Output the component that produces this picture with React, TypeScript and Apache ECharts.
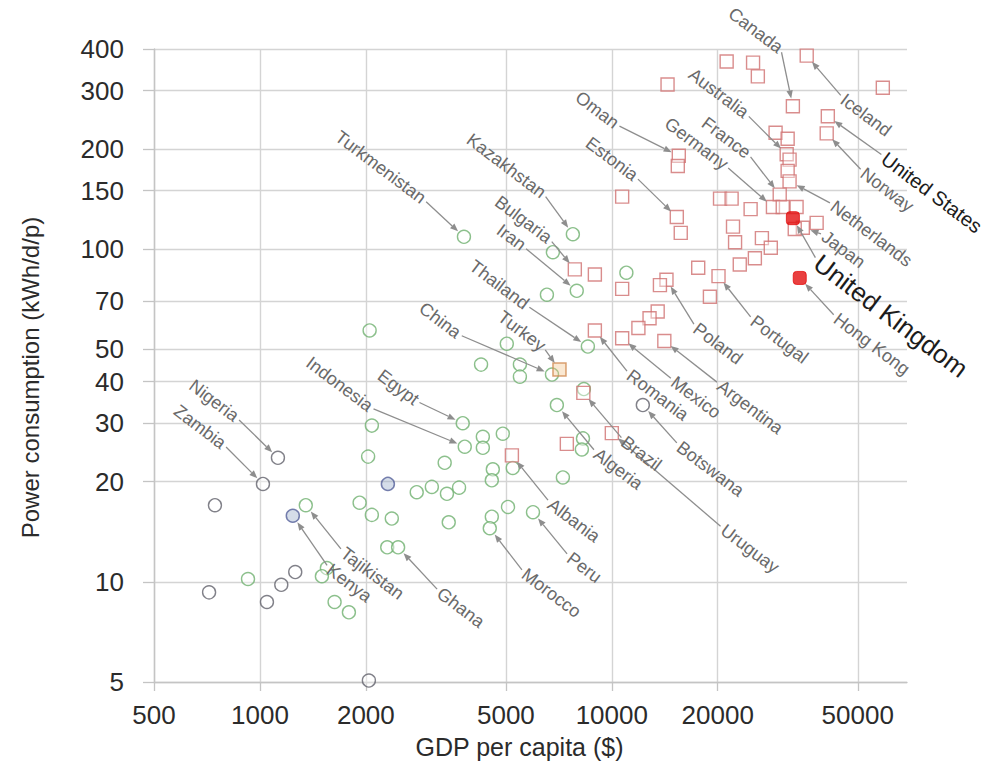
import React, { useEffect, useRef } from "react";
import * as echarts from "echarts";

// ---- axes ----
const X_TICKS = [500, 1000, 2000, 5000, 10000, 20000, 50000];
const Y_TICKS = [5, 10, 20, 30, 40, 50, 70, 100, 150, 200, 300, 400];
const X_NAME = "GDP per capita ($)";
const Y_NAME = "Power consumption (kWh/d/p)";

type Pt = [number, number, string];

// [GDP per capita, power consumption, label]
const highDev: Pt[] = [
  [21200, 367, ""], [25200, 364, ""], [26000, 331, ""], [14400, 313, ""],
  [35800, 382, "Iceland"], [58900, 306, ""], [32700, 269, "Canada"],
  [41100, 251, "United States"], [40800, 223, "Norway"], [29200, 224, ""],
  [31600, 215, ""], [31400, 193, "Australia"], [32000, 186, ""], [31600, 172, ""],
  [32000, 160, "Netherlands"], [15500, 191, "Oman"], [15400, 178, ""],
  [10700, 144, ""], [15300, 125, "Estonia"], [15700, 112, ""], [20300, 142, ""],
  [21900, 142, ""], [30000, 146, "France"], [24800, 132, ""], [28700, 134, "Germany"],
  [30600, 134, ""], [33500, 134, ""], [38200, 120, ""], [34900, 116, "Japan"],
  [33100, 115, ""], [22100, 117, ""], [26700, 108, ""], [22400, 105, ""],
  [28300, 101, ""], [25500, 94, ""], [23100, 90, ""], [17600, 88, ""],
  [20100, 83, "Portugal"], [19000, 72, ""], [14300, 81, "Poland"], [13700, 78, ""],
  [7850, 87, "Bulgaria"], [8950, 84, ""], [10700, 76, ""], [13500, 65, ""],
  [12800, 62, ""], [11900, 58, ""], [10700, 54, "Mexico"], [8950, 57, "Romania"],
  [14100, 53, "Argentina"], [8300, 37, "Brazil"], [10000, 28, "Uruguay"],
  [7450, 26, ""], [5200, 24, "Albania"],
];
const turkey: Pt[] = [[7100, 43.5, "Turkey"]];
const highlighted: Pt[] = [[32700, 124, "United Kingdom"], [34200, 82, "Hong Kong"]];

const mediumDev: Pt[] = [
  [3800, 109, "Turkmenistan"], [7750, 111, "Kazakhstan"], [6800, 98, ""], [6540, 73, ""],
  [7950, 75, "Iran"], [11000, 85, ""], [2050, 57, ""], [5030, 52, ""], [4250, 45, ""],
  [5480, 45, ""], [5480, 41.4, ""], [6760, 42, "China"], [8550, 51, "Thailand"],
  [8330, 38, ""], [6980, 34, "Algeria"], [8280, 27, ""], [8220, 25, ""],
  [2080, 29.5, ""], [2030, 23.8, ""], [3770, 30, "Egypt"], [4300, 27.3, ""],
  [4300, 25.3, ""], [4900, 27.9, ""], [3820, 25.5, "Indonesia"], [3350, 22.8, ""],
  [5230, 22, ""], [4590, 21.8, ""], [4560, 20.2, ""], [7260, 20.6, ""],
  [2790, 18.6, ""], [3080, 19.3, ""], [3400, 18.4, ""], [3680, 19.2, ""],
  [5070, 16.8, ""], [5970, 16.2, "Peru"], [4560, 15.7, ""], [4500, 14.5, "Morocco"],
  [3440, 15.1, ""], [1920, 17.3, ""], [2080, 15.9, ""], [2370, 15.5, ""],
  [2300, 12.7, ""], [2470, 12.7, "Ghana"], [925, 10.2, ""], [1550, 11, ""],
  [1500, 10.4, ""], [1630, 8.7, ""], [1790, 8.1, ""], [1350, 17, "Tajikistan"],
];
const lowDev: Pt[] = [
  [1125, 23.6, "Nigeria"], [1020, 19.7, "Zambia"], [745, 17, ""], [1260, 10.7, ""],
  [1150, 9.8, ""], [717, 9.3, ""], [1047, 8.7, ""], [2040, 5.05, ""],
  [12250, 34, "Botswana"],
];
const otherDev: Pt[] = [[2310, 19.7, ""], [1240, 15.8, "Kenya"]];

// label placement: offset (px) of the label's anchor from its point
const labelNames = [
  "Canada", "Australia", "France", "Germany", "Oman", "Estonia", "Turkmenistan",
  "Kazakhstan", "Bulgaria", "Iran", "Thailand", "China", "Turkey", "Egypt",
  "Indonesia", "Nigeria", "Zambia", "Tajikistan", "Kenya", "Ghana", "Morocco",
  "Peru", "Albania", "Algeria", "Brazil", "Botswana", "Uruguay", "Romania",
  "Mexico", "Argentina", "Poland", "Portugal", "Hong Kong", "United Kingdom",
  "Japan", "Netherlands", "Norway", "United States", "Iceland",
];
const labelDx = [
  -12, -40, -31, -47, -62, -41, -40,
  -29, -25, -53, -61, -93, -16, -46,
  -94, -41, -39, 37, 36, 41, 34,
  36, 38, 39, 40, 36, 111, 34,
  51, 55, 29, 34, 36, 24,
  21, 43, 36, 56, 36,
];
const labelDy = [
  -57, -40, -40, -41, -31, -40, -37,
  -40, -30, -44, -41, -40, -22, -22,
  -39, -40, -39, 46, 52, 44, 44,
  44, 47, 47, 47, 40, 95, 43,
  42, 43, 47, 43, 39, 42,
  7, 23, 38, 40, 42,
];

const FONT = "'Liberation Sans', Arial, sans-serif";

export default function App() {
  const ref = useRef<HTMLDivElement>(null);

  useEffect(() => {
    const chart = echarts.init(ref.current!, null, { renderer: "svg" });

    const toData = (arr: Pt[]) => arr.map((d) => ({ value: [d[0], d[1]], name: d[2] }));
    const scatter = (name: string, arr: Pt[], symbol: string, size: number, itemStyle: any, z: number) => ({
      name,
      type: "scatter",
      data: toData(arr),
      symbol,
      symbolSize: size,
      itemStyle,
      z,
      silent: true,
    });

    const gridColor = "#d4d4d4";
    const labelStyle = { color: "#2b2b2b", fontSize: 26, fontFamily: FONT };

    chart.setOption({
      animation: false,
      backgroundColor: "#ffffff",
      grid: { left: 154, right: 83, top: 49, bottom: 84, containLabel: false, outerBoundsMode: "none" },
      xAxis: {
        type: "log",
        logBase: 10,
        min: 500,
        max: 69000,
        name: X_NAME,
        nameLocation: "middle",
        nameGap: 52,
        nameMoveOverlap: false,
        nameTextStyle: { color: "#2b2b2b", fontSize: 25, fontFamily: FONT, padding: [0, 22, 0, 0] },
        axisLine: { show: true, lineStyle: { color: "#c4c4c4", width: 1.4 } },
        axisTick: { show: true, customValues: X_TICKS, length: 9, lineStyle: { color: "#c4c4c4", width: 1.3 } },
        axisLabel: { customValues: X_TICKS, margin: 20, ...labelStyle, formatter: (v: number) => String(Math.round(v)) },
        splitLine: { show: true, lineStyle: { color: gridColor, width: 1.4 } },
        minorTick: { show: false },
        minorSplitLine: { show: false },
      },
      yAxis: {
        type: "log",
        logBase: 10,
        min: 5,
        max: 400,
        name: Y_NAME,
        nameLocation: "middle",
        nameGap: 112,
        nameMoveOverlap: false,
        nameTextStyle: { color: "#2b2b2b", fontSize: 24, fontFamily: FONT, padding: [0, 24, 0, 0] },
        axisLine: { show: true, lineStyle: { color: "#c4c4c4", width: 1.4 } },
        axisTick: { show: true, customValues: Y_TICKS, length: 11, lineStyle: { color: "#c4c4c4", width: 1.3 } },
        axisLabel: { customValues: Y_TICKS, margin: 30, ...labelStyle, formatter: (v: number) => String(Math.round(v)) },
        splitLine: { show: true, lineStyle: { color: gridColor, width: 1.4 } },
        minorTick: { show: false },
        minorSplitLine: { show: false },
      },
      series: [
        scatter("medium", mediumDev, "circle", 13, { color: "rgba(255,255,255,0.5)", borderColor: "#6fb06f", borderWidth: 1.4 }, 3),
        scatter("low", lowDev, "circle", 13, { color: "rgba(255,255,255,0.5)", borderColor: "#62626c", borderWidth: 1.4 }, 3),
        scatter("other", otherDev, "circle", 13, { color: "rgba(150,170,200,0.5)", borderColor: "#55609a", borderWidth: 1.5 }, 3),
        scatter("high", highDev, "rect", 13, { color: "rgba(255,255,255,0.5)", borderColor: "#d07070", borderWidth: 1.4 }, 4),
        scatter("turkey", turkey, "rect", 13, { color: "rgba(240,190,130,0.45)", borderColor: "#d08a50", borderWidth: 1.5 }, 4),
        scatter("highlight", highlighted, "roundRect", 13, { color: "#e31010", borderColor: "#e31010", borderWidth: 1 }, 5),
      ],
    });

    // annotations: arrows from labels to points
    const all: Pt[] = [...highDev, ...turkey, ...highlighted, ...mediumDev, ...lowDev, ...otherDev];
    const elements: any[] = [];
    labelNames.forEach((name, i) => {
      const pt = all.find((d) => d[2] === name);
      if (!pt) return;
      const p = chart.convertToPixel({ gridIndex: 0 }, [pt[0], pt[1]]) as number[];
      const dx = labelDx[i];
      const dy = labelDy[i];
      const ax = p[0] + dx;
      const ay = p[1] + dy;
      const len = Math.hypot(dx, dy);
      const ux = -dx / len;
      const uy = -dy / len;
      const nx = -uy;
      const ny = ux;
      const big = name === "United Kingdom";
      const mid = name === "United States";
      const sx = ax + ux * 3;
      const sy = ay + uy * 3;
      const ex = p[0] - ux * 8;
      const ey = p[1] - uy * 8;
      const bx = ex - ux * 8;
      const by = ey - uy * 8;
      const lineColor = "#8e8e8e";
      elements.push({
        type: "line",
        silent: true,
        z: 20,
        shape: { x1: sx, y1: sy, x2: bx, y2: by },
        style: { stroke: lineColor, lineWidth: 1.3 },
      });
      elements.push({
        type: "polygon",
        silent: true,
        z: 20,
        shape: { points: [[ex, ey], [bx + nx * 3.2, by + ny * 3.2], [bx - nx * 3.2, by - ny * 3.2]] },
        style: { fill: lineColor },
      });
      const align = dx < 0 ? "right" : "left";
      elements.push({
        type: "text",
        silent: true,
        z: 21,
        x: ax,
        y: ay,
        rotation: (-37 * Math.PI) / 180,
        style: {
          text: name,
          fill: big || mid ? "#1c1c1c" : "#6a6a6a",
          fontSize: big ? 26 : mid ? 20 : 18,
          fontFamily: FONT,
          align,
          textAlign: align,
          verticalAlign: "middle",
          textVerticalAlign: "middle",
        },
      });
    });
    chart.setOption({ graphic: { elements } });

    return () => chart.dispose();
  }, []);

  return (
    <div
      ref={ref}
      style={{ position: "absolute", left: 0, top: 0, width: 990, height: 766, background: "#fff" }}
    />
  );
}
